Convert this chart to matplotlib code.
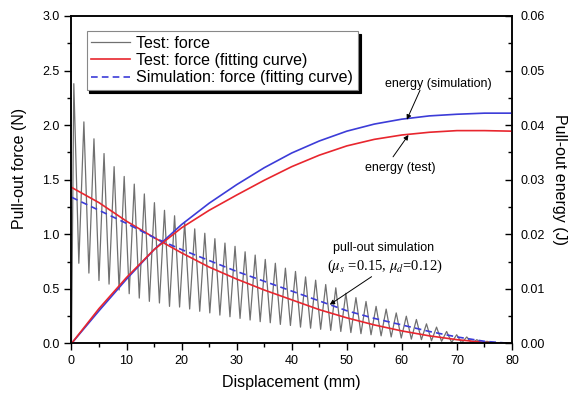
import numpy as np
import matplotlib
matplotlib.use("Agg")
import matplotlib.pyplot as plt
from matplotlib.ticker import MultipleLocator

plt.rcParams['font.family'] = ['Liberation Sans', 'DejaVu Sans']
plt.rcParams['mathtext.fontset'] = 'stix'

# --- datos ---
# ensayo: fuerza oscilante (picos y valles)
peak_x = [0.42, 2.25, 4.08, 5.91, 7.74, 9.57, 11.40, 13.23, 15.06, 16.89,
          18.72, 20.55, 22.38, 24.21, 26.04, 27.87, 29.70, 31.53, 33.36, 35.19,
          37.02, 38.85, 40.68, 42.51, 44.34, 46.17, 48.00, 49.83, 51.66, 53.49,
          55.32, 57.15, 58.98, 60.81, 62.64, 64.47, 66.30, 68.13, 69.96, 71.79,
          73.62, 75.45]
peak_y = [2.38, 2.03, 1.875, 1.74, 1.62, 1.53, 1.46, 1.37, 1.29, 1.22,
          1.17, 1.11, 1.05, 1.01, 0.96, 0.92, 0.89, 0.84, 0.81, 0.77,
          0.735, 0.69, 0.66, 0.61, 0.58, 0.54, 0.51, 0.46, 0.42, 0.385,
          0.34, 0.315, 0.28, 0.25, 0.22, 0.18, 0.15, 0.11, 0.08, 0.06,
          0.035, 0.02]
trough_x = [1.33, 3.16, 4.99, 6.82, 8.65, 10.48, 12.31, 14.14, 15.97, 17.80,
            19.63, 21.46, 23.29, 25.12, 26.95, 28.78, 30.61, 32.44, 34.27, 36.10,
            37.93, 39.76, 41.59, 43.42, 45.25, 47.08, 48.91, 50.74, 52.57, 54.40,
            56.23, 58.06, 59.89, 61.72, 63.55, 65.38, 67.21, 69.04, 70.87, 72.70,
            74.53]
trough_y = [0.735, 0.645, 0.577, 0.544, 0.49, 0.456, 0.416, 0.386, 0.371, 0.34,
            0.334, 0.316, 0.295, 0.28, 0.26, 0.245, 0.23, 0.215, 0.20, 0.19,
            0.175, 0.165, 0.15, 0.14, 0.13, 0.12, 0.11, 0.10, 0.09, 0.08,
            0.07, 0.06, 0.05, 0.04, 0.035, 0.025, 0.02, 0.01, 0.005, 0.0,
            0.0]

# curvas de ajuste (fuerza) y energia
fit_x = [0, 5, 10, 15, 20, 25, 30, 35, 40, 45, 50, 55, 60, 65, 70, 75, 80]
test_force_fit = [1.43, 1.29, 1.12, 0.97, 0.83, 0.70, 0.59, 0.49, 0.40, 0.31,
                  0.235, 0.17, 0.115, 0.07, 0.035, 0.01, 0.0]
sim_force_fit = [1.34, 1.22, 1.10, 0.97, 0.86, 0.76, 0.66, 0.57, 0.48, 0.39,
                 0.30, 0.23, 0.17, 0.11, 0.06, 0.02, 0.0]
energy_sim = [0.0, 0.0060, 0.0118, 0.0172, 0.0218, 0.0257, 0.0291, 0.0322, 0.0349,
              0.0371, 0.0389, 0.0402, 0.0411, 0.0417, 0.0420, 0.0422, 0.0422]
energy_test = [0.0, 0.0064, 0.0121, 0.0172, 0.0212, 0.0244, 0.0272, 0.0299, 0.0324,
               0.0345, 0.0362, 0.0374, 0.0382, 0.0387, 0.0390, 0.0390, 0.0389]

# intercalar picos y valles
osc_x = [0.0]
osc_y = [0.0]
for i in range(len(peak_x)):
    osc_x.append(peak_x[i])
    osc_y.append(peak_y[i])
    if i < len(trough_x):
        osc_x.append(trough_x[i])
        osc_y.append(trough_y[i])
osc_x += [77.0, 80.0]
osc_y += [0.0, 0.0]

red = '#e8262e'
blue = '#3c3cd8'

fig = plt.figure(figsize=(5.87, 3.95), dpi=100)
ax = fig.add_axes([0.1218, 0.1304, 0.7504, 0.8291])
ax2 = ax.twinx()

l1, = ax.plot(osc_x, osc_y, color='#707070', lw=0.9, label='Test: force')
l2, = ax.plot(fit_x, test_force_fit, color=red, lw=1.2, label='Test: force (fitting curve)')
l3, = ax.plot(fit_x, sim_force_fit, color=blue, lw=1.2, ls=(0, (4, 2.5)),
              label='Simulation: force (fitting curve)')

ax2.plot(fit_x, energy_sim, color=blue, lw=1.2)
ax2.plot(fit_x, energy_test, color=red, lw=1.2)

ax.set_xlim(0, 80)
ax.set_ylim(0, 3.0)
ax2.set_ylim(0, 0.06)

ax.xaxis.set_major_locator(MultipleLocator(10))
ax.xaxis.set_minor_locator(MultipleLocator(5))
ax.yaxis.set_major_locator(MultipleLocator(0.5))
ax.yaxis.set_minor_locator(MultipleLocator(0.25))
ax2.yaxis.set_major_locator(MultipleLocator(0.01))
ax2.yaxis.set_minor_locator(MultipleLocator(0.005))
ax.yaxis.set_major_formatter(plt.FormatStrFormatter('%.1f'))
ax2.yaxis.set_major_formatter(plt.FormatStrFormatter('%.2f'))

ax.tick_params(which='both', direction='out', labelsize=9, width=1, pad=3.5, top=False)
ax.tick_params(which='major', length=5)
ax.tick_params(which='minor', length=3)
ax2.tick_params(which='both', direction='in', labelsize=9, width=1, pad=6)
ax2.tick_params(which='major', length=5)
ax2.tick_params(which='minor', length=3)
for a in (ax, ax2):
    for s in a.spines.values():
        s.set_linewidth(1.1)

ax.set_xlabel('Displacement (mm)', fontsize=11.5)
ax.set_ylabel('Pull-out force (N)', fontsize=11.5)
ax2.set_ylabel('Pull-out energy (J)', fontsize=11.5, rotation=270)
ax.xaxis.set_label_coords(0.5, -0.095)
ax.yaxis.set_label_coords(-0.1, 0.535)
ax2.yaxis.set_label_coords(1.125, 0.5)

leg = ax2.legend([l1, l2, l3], [l1.get_label(), l2.get_label(), l3.get_label()],
                 loc='upper left', bbox_to_anchor=(0.0345, 0.955), borderaxespad=0,
                 fontsize=11.5, frameon=True, fancybox=False,
                 shadow={'color': 'black', 'alpha': 1},
                 handlelength=2.4, handletextpad=0.4, labelspacing=0.15,
                 borderpad=0.3)
leg.get_frame().set_edgecolor('#888888')
leg.get_frame().set_linewidth(0.8)

arrow = dict(arrowstyle='-|>', color='black', lw=0.7, mutation_scale=7,
             shrinkA=0, shrinkB=0)
ax2.text(66.6, 0.0475, 'energy (simulation)', fontsize=9, ha='center', va='center')
ax2.annotate('', xy=(60.9, 0.0410), xytext=(63.3, 0.0464), arrowprops=arrow)
ax2.text(59.7, 0.0321, 'energy (test)', fontsize=9, ha='center', va='center')
ax2.annotate('', xy=(61.2, 0.0382), xytext=(58.4, 0.0342), arrowprops=arrow)

ax2.text(56.6, 0.875 / 50, 'pull-out simulation', fontsize=9, ha='center', va='center')
ax2.text(56.9, 0.71 / 50, r'($\mu_s$ =0.15, $\mu_d$=0.12)', fontsize=10.5,
         ha='center', va='center', family=['Liberation Serif', 'DejaVu Serif'])
ax.annotate('', xy=(46.9, 0.356), xytext=(54.5, 0.612), arrowprops=arrow)

fig.savefig('out.png', dpi=100)
